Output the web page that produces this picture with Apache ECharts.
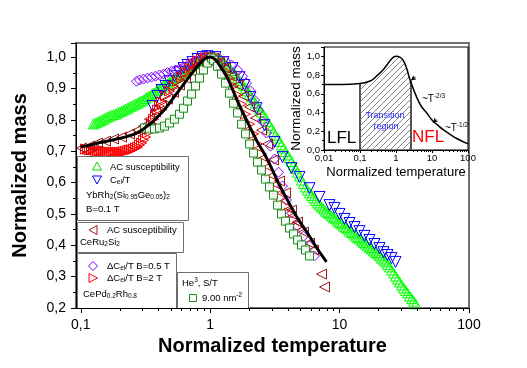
<!DOCTYPE html>
<html><head><meta charset="utf-8">
<script src="https://cdn.jsdelivr.net/npm/echarts@6.0.0/dist/echarts.min.js"></script>
<style>html,body{margin:0;padding:0;background:#fff}#c{width:527px;height:368px}</style>
</head><body><div id="c"></div>
<script>
// ---------- tick values ----------
const xMajorTicks = [0.1, 1, 10, 100];
const xMinorTicks = [0.2,0.3,0.4,0.5,0.6,0.7,0.8,0.9,2,3,4,5,6,7,8,9,20,30,40,50,60,70,80,90];
const insetMajorTicks = [0.01, 0.1, 1, 10, 100];
const insetMinorTicks = [0.02,0.03,0.04,0.05,0.06,0.07,0.08,0.09,0.2,0.3,0.4,0.5,0.6,0.7,0.8,0.9,2,3,4,5,6,7,8,9,20,30,40,50,60,70,80,90];

// ---------- data: [normalized temperature, normalized mass] ----------
// YbRh2(Si0.95Ge0.05)2, AC susceptibility (green up triangles)
const ybAC = [[0.1253,0.787],[0.1299,0.790],[0.1346,0.793],[0.1395,0.796],[0.1445,0.799],[0.1498,0.802],[0.1552,0.806],[0.1608,0.809],[0.1667,0.812],[0.1727,0.815],[0.1789,0.817],[0.1854,0.818],[0.1921,0.822],[0.1991,0.825],[0.2063,0.828],[0.2138,0.831],[0.2215,0.834],[0.2296,0.837],[0.2379,0.841],[0.2465,0.844],[0.2555,0.847],[0.2647,0.850],[0.2743,0.853],[0.2842,0.857],[0.2945,0.860],[0.3051,0.863],[0.3162,0.868],[0.3277,0.873],[0.3396,0.876],[0.3518,0.880],[0.3645,0.885],[0.3777,0.888],[0.3914,0.893],[0.4056,0.898],[0.4203,0.903],[0.4356,0.908],[0.4514,0.911],[0.4677,0.915],[0.4846,0.920],[0.5022,0.925],[0.5204,0.930],[0.5392,0.935],[0.5587,0.939],[0.5789,0.944],[0.5999,0.949],[0.6218,0.954],[0.6443,0.959],[0.6676,0.963],[0.6918,0.968],[0.7168,0.973],[0.7428,0.978],[0.7699,0.982],[0.7977,0.987],[0.8268,0.990],[0.8567,0.994],[0.8875,0.997],[0.9197,0.998],[0.9530,1.000],[0.9876,1.002],[1.023,1.002],
[1.060,1.000],[1.099,0.998],[1.139,0.997],[1.180,0.994],[1.223,0.989],[1.267,0.984],[1.313,0.978],[1.360,0.971],[1.409,0.965],[1.461,0.957],[1.514,0.949],[1.569,0.943],[1.626,0.933],[1.684,0.925],[1.746,0.917],[1.809,0.909],[1.874,0.901],[1.942,0.892],[2.013,0.882],[2.085,0.873],[2.161,0.863],[2.239,0.853],[2.320,0.844],[2.404,0.834],[2.491,0.825],[2.582,0.815],[2.675,0.806],[2.773,0.794],[2.872,0.783],[2.977,0.774],[3.084,0.763],[3.196,0.751],[3.312,0.742],[3.432,0.731],[3.556,0.720],[3.685,0.710],[3.818,0.699],[3.957,0.688],[4.101,0.678],[4.249,0.667],[4.403,0.656],[4.563,0.646],[4.727,0.633],[4.899,0.621],[5.076,0.608],[5.260,0.597],[5.451,0.586],[5.648,0.576],[5.853,0.567],[6.065,0.559],[6.284,0.551],[6.512,0.543],[6.748,0.535],[6.993,0.528],[7.246,0.522],[7.508,0.516],[7.781,0.509],[8.062,0.504],[8.356,0.500],[8.658,0.493],[8.972,0.488],[9.297,0.484],[9.634,0.477],[9.982,0.472],[10.34,0.468],[10.72,0.461],[11.11,0.457],[11.51,0.452],[11.93,0.445],[12.36,0.441],[12.81,0.436],[13.27,0.429],[13.75,0.425],[14.25,0.420],[14.77,0.414],[15.30,0.409],[15.86,0.404],[16.43,0.398],[17.02,0.393],[17.64,0.388],[18.28,0.382],[18.94,0.377],[19.63,0.372],[20.34,0.366],[21.07,0.359],[21.84,0.353],[22.63,0.347],[23.45,0.339],[24.30,0.331],[25.18,0.321],[26.09,0.312],[27.04,0.302],[28.02,0.292],[29.04,0.283],[30.09,0.273],[31.18,0.264],[32.31,0.256],[33.48,0.248],[34.69,0.238],[35.95,0.230],[37.25,0.222],[38.61,0.213]];
// YbRh2(Si0.95Ge0.05)2, Cel/T (blue down triangles)
const ybCel = [[0.3581,0.844],[0.3914,0.876],[0.4203,0.895],[0.4514,0.908],[0.4846,0.923],[0.5297,0.939],[0.5789,0.952],[0.6218,0.965],[0.6676,0.975],[0.7297,0.984],[0.7977,0.994],[0.872,1.000],[0.953,1.003],[1.099,1.000],[1.267,0.984],[1.487,0.965],[1.684,0.936],[1.841,0.911],[2.049,0.873],[2.280,0.837],[2.628,0.783],[3.140,0.729],[3.620,0.681],[4.249,0.646],[4.899,0.618],[5.853,0.582],[6.993,0.554],[8.356,0.528],[9.134,0.519],[9.982,0.500],[10.91,0.484],[11.93,0.471],[13.04,0.458],[14.25,0.445],[15.57,0.430],[17.02,0.417],[18.61,0.404],[20.34,0.391],[21.84,0.378],[23.45,0.369],[25.18,0.359],[27.04,0.347]];
// CeRu2Si2, AC susceptibility (dark red left triangles)
const ceRuAC = [[0.1012,0.710],[0.1167,0.716],[0.1346,0.726],[0.1552,0.732],[0.1789,0.739],[0.2063,0.745],[0.2379,0.755],[0.2743,0.767],[0.3051,0.780],[0.3396,0.802],[0.3777,0.825],[0.4203,0.847],[0.4677,0.866],[0.5204,0.888],[0.5789,0.911],[0.6443,0.933],[0.7168,0.955],[0.7977,0.974],[0.8875,0.990],[0.9876,1.000],[1.060,0.997],[1.180,0.984],[1.313,0.965],[1.461,0.939],[1.626,0.911],[1.809,0.876],[2.013,0.841],[2.239,0.806],[2.491,0.767],[2.773,0.723],[3.084,0.672],[3.432,0.605],[3.818,0.567],[4.249,0.512],[4.727,0.474],[5.260,0.442],[5.853,0.407],[6.284,0.385],[7.246,0.308],[7.644,0.267]];
// CePd0.2Rh0.8, dCel/T B=0.5 T (purple diamonds)
const cePd05 = [[0.2694,0.923],[0.2842,0.927],[0.3051,0.930],[0.3277,0.933],[0.3518,0.936],[0.3777,0.939],[0.4056,0.943],[0.4356,0.946],[0.4677,0.951],[0.5022,0.955],[0.5392,0.959],[0.5789,0.963],[0.6218,0.968],[0.6676,0.975],[0.7168,0.981],[0.7699,0.987],[0.8268,0.992],[0.8875,0.997],[0.9530,1.000],[1.060,1.000],[1.180,0.994],[1.313,0.987],[1.461,0.975],[1.626,0.959],[1.777,0.939],[1.908,0.917],[2.049,0.892],[2.199,0.863],[2.362,0.831],[2.536,0.796],[2.724,0.758],[2.924,0.716],[3.140,0.675],[3.372,0.633],[3.620,0.589],[3.887,0.544],[4.249,0.503],[4.727,0.461],[5.260,0.429],[5.853,0.398],[6.398,0.366]];
// CePd0.2Rh0.8, dCel/T B=2 T (red right triangles)
const cePd2 = [[0.1087,0.707],[0.1127,0.706],[0.1167,0.704],[0.1210,0.704],[0.1253,0.704],[0.1299,0.702],[0.1346,0.700],[0.1395,0.700],[0.1445,0.700],[0.1498,0.700],[0.1552,0.700],[0.1608,0.699],[0.1667,0.697],[0.1727,0.697],[0.1789,0.697],[0.1854,0.697],[0.1921,0.697],[0.1991,0.697],[0.2063,0.697],[0.2138,0.699],[0.2215,0.700],[0.2296,0.702],[0.2379,0.704],[0.2465,0.705],[0.2555,0.707],[0.2647,0.710],[0.2743,0.713],[0.2842,0.720],[0.2945,0.726],[0.3051,0.735],[0.3162,0.745],[0.3277,0.758],[0.3396,0.771],[0.3518,0.787],[0.3645,0.802],[0.3777,0.817],[0.3914,0.831],[0.4056,0.844],[0.4203,0.857],[0.4514,0.876],[0.4846,0.892],[0.5204,0.908],[0.5587,0.923],[0.5999,0.936],[0.6443,0.952],[0.6918,0.965],[0.7428,0.978],[0.7977,0.987],[0.8567,0.994],[0.9197,0.998],[0.9876,1.000],[1.060,1.000],[1.139,0.990],[1.223,0.974],[1.313,0.955],[1.409,0.933],[1.514,0.908],[1.626,0.879],[1.746,0.850],[1.874,0.818],[2.013,0.786],[2.161,0.755],[2.320,0.723],[2.491,0.691],[2.675,0.662],[2.872,0.633],[3.084,0.605],[3.312,0.576],[3.556,0.551],[3.818,0.525],[4.101,0.503],[4.403,0.480],[4.727,0.458]];
// He3, S/T, 9.00 nm^-2 (dark green squares)
const he3 = [[0.3107,0.774],[0.3396,0.771],[0.3712,0.771],[0.4056,0.774],[0.4433,0.780],[0.4846,0.790],[0.5297,0.802],[0.5789,0.818],[0.6218,0.837],[0.6676,0.860],[0.7168,0.882],[0.7699,0.908],[0.8268,0.933],[0.8875,0.959],[0.9530,0.981],[1.023,0.997],[1.060,0.990],[1.139,0.971],[1.223,0.946],[1.313,0.917],[1.409,0.885],[1.514,0.853],[1.626,0.822],[1.746,0.786],[1.874,0.755],[2.013,0.723],[2.161,0.694],[2.320,0.665],[2.491,0.640],[2.675,0.611],[2.872,0.586],[3.084,0.560],[3.312,0.528],[3.556,0.500],[3.818,0.477],[4.101,0.455],[4.403,0.436],[4.727,0.417],[5.076,0.401],[5.451,0.385],[5.853,0.366]];
// theory curve (black)
const theory = [[0.1,0.713],[0.13,0.724],[0.196,0.740],[0.2647,0.756],[0.3336,0.783],[0.4268,0.825],[0.4846,0.853],[0.5392,0.879],[0.5999,0.904],[0.6676,0.930],[0.7428,0.955],[0.8268,0.978],[0.904,0.994],[1.0,1.0],[1.08,0.994],[1.139,0.984],[1.36,0.933],[1.626,0.860],[1.942,0.793],[2.32,0.729],[2.628,0.691],[2.977,0.646],[3.432,0.592],[3.957,0.544],[4.727,0.487],[5.648,0.439],[6.748,0.388],[7.921,0.347]];
// inset curve
const insetT = [0.01,0.03,0.1,0.2,0.29,0.4,0.54,0.74,1,1.3,1.57,1.94,2.5,3.7,5,7,10,13,20,31,50,100];
const insetM = [0.70,0.70,0.71,0.74,0.79,0.84,0.90,0.97,1.0,0.99,0.96,0.88,0.74,0.57,0.47,0.40,0.32,0.28,0.22,0.17,0.12,0.065];
const transitionRange = [0.1, 2.5];

// ---------- chart ----------
const FONT = '"Liberation Sans", Arial, Helvetica, sans-serif';
const insetCurve = insetT.map((t, i) => [t, insetM[i]]);
const hatchData = insetCurve.filter(p => p[0] >= transitionRange[0] && p[0] <= transitionRange[1]);
const mAt = t => insetCurve.find(p => p[0] === t)[1];

const hatch = document.createElement('canvas');
hatch.width = 6; hatch.height = 6;
const hc = hatch.getContext('2d');
hc.strokeStyle = '#777'; hc.lineWidth = 0.9;
hc.beginPath();
hc.moveTo(0, 6); hc.lineTo(6, 0);
hc.moveTo(-1, 1); hc.lineTo(1, -1);
hc.moveTo(5, 7); hc.lineTo(7, 5);
hc.stroke();

function fmtLog(v) { return String(+(+v).toPrecision(6)).replace('.', ','); }
function fmtY01(v) { const r = Math.round(v * 10) / 10; return Math.abs(v - r) < 1e-6 ? r.toFixed(1).replace('.', ',') : ''; }
function fmtY02(v) { const r = Math.round(v * 5) / 5; return Math.abs(v - r) < 1e-6 ? r.toFixed(1).replace('.', ',') : ''; }

const black = '#000';
function logAxis(grid, min, max, ticks, len, labels, extra) {
  return Object.assign({
    type: 'log', gridIndex: grid, min: min, max: max, position: 'bottom', z: 60,
    axisLine: { show: labels, lineStyle: { color: black, width: 1 } },
    axisTick: { show: true, inside: false, length: len, customValues: ticks, lineStyle: { color: black, width: 1 } },
    axisLabel: labels ? { show: true, customValues: ticks, formatter: fmtLog, color: black, fontFamily: FONT } : { show: false },
    splitLine: { show: false }, minorTick: { show: false }
  }, extra || {});
}

const graphics = [];
function box(x, y, w, h) {
  graphics.push({ type: 'rect', z: 50, shape: { x: x + 0.5, y: y + 0.5, width: w, height: h },
    style: { fill: '#fff', stroke: '#6e6e6e', lineWidth: 1 } });
}
const richSub = { fontSize: 6.5, lineHeight: 5, verticalAlign: 'bottom', fontFamily: FONT };
const richSup = { fontSize: 6.5, lineHeight: 5, verticalAlign: 'top', fontFamily: FONT };
function label(x, y, text, opts) {
  graphics.push({ type: 'text', z: 51, style: Object.assign({ text: text, x: x, y: y, fill: '#000', fontSize: 9.5, fontFamily: FONT,
    verticalAlign: 'middle', align: 'left', lineHeight: 12, rich: { sub: richSub, sup: richSup } }, opts || {}) });
}
function poly(points, color) {
  graphics.push({ type: 'polygon', z: 51, shape: { points: points }, style: { fill: 'none', stroke: color, lineWidth: 1 } });
}

box(77, 156, 111, 64);
poly([[97, 162], [101.5, 170], [92.5, 170]], '#00dd00');
label(110, 167, 'AC susceptibility');
poly([[92.5, 176], [101.5, 176], [97, 184]], '#0000ff');
label(110, 180, 'C{sub|el}/T');
label(86, 195, 'YbRh{sub|2}(Si{sub|0.95}Ge{sub|0.05}){sub|2}');
label(86, 209, 'B=0.1 T');

box(77, 222, 106, 30);
poly([[89, 230], [97, 225.5], [97, 234.5]], '#a01818');
label(107, 230, 'AC susceptibility');
label(80, 242, 'CeRu{sub|2}Si{sub|2}');

box(77, 253, 99, 55);
poly([[93, 261.5], [97.5, 266], [93, 270.5], [88.5, 266]], '#8000ff');
label(107, 266, 'ΔC{sub|el}/T B=0.5 T');
poly([[97.5, 278], [89, 273.5], [89, 282.5]], '#ff0000');
label(107, 278, 'ΔC{sub|el}/T B=2 T');
label(83, 294, 'CePd{sub|0.2}Rh{sub|0.8}');

box(177, 272, 71, 36);
label(182, 283, 'He{sup|3}, S/T');
graphics.push({ type: 'rect', z: 51, shape: { x: 189.5, y: 294.5, width: 7, height: 7 }, style: { fill: 'none', stroke: '#1a8a1a', lineWidth: 1 } });
label(202, 298, '9.00 nm{sup|-2}');

// inset annotations
label(327, 138, 'LFL', { fontSize: 17 });
label(412, 137, 'NFL', { fontSize: 17, fill: '#ff0000' });
label(385, 116, 'Transition', { fontSize: 9, fill: '#2a2aff', align: 'center' });
label(386, 127, 'region', { fontSize: 9, fill: '#2a2aff', align: 'center' });
label(422, 99, '~T{sup|-2/3}', { fontSize: 10 });
label(445, 128, '~T{sup|-1/2}', { fontSize: 10 });

function scatter(data, symbol, rotate, size, color, fill, z) {
  return { type: 'scatter', xAxisIndex: 0, yAxisIndex: 0, data: data, symbol: symbol, symbolRotate: rotate, symbolSize: size,
    itemStyle: { color: fill || 'transparent', borderColor: color, borderWidth: 1, opacity: 1 }, silent: true, z: z || 2 };
}

const option = {
  animation: false,
  backgroundColor: '#fff',
  textStyle: { fontFamily: FONT },
  grid: [
    { left: 76, right: 58, top: 43, bottom: 60, show: true, borderColor: '#707070', borderWidth: 2, backgroundColor: 'transparent', outerBoundsMode: 'none', containLabel: false },
    { left: 324, right: 59, top: 47, bottom: 218, show: true, borderColor: '#000', borderWidth: 1, backgroundColor: '#fff', z: 3, outerBoundsMode: 'none', containLabel: false }
  ],
  xAxis: [
    logAxis(0, 0.0918, 100, xMajorTicks, 5, true, {
      axisLabel: { show: true, customValues: xMajorTicks, formatter: fmtLog, color: black, fontFamily: FONT, fontSize: 14, margin: 10 },
      name: 'Normalized temperature', nameLocation: 'middle', nameGap: 25,
      nameTextStyle: { fontSize: 20, fontWeight: 'bold', color: black, fontFamily: FONT } }),
    logAxis(0, 0.0918, 100, xMinorTicks, 3, false),
    logAxis(1, 0.01, 100, insetMajorTicks, 3, true, {
      axisLabel: { show: true, customValues: insetMajorTicks, formatter: fmtLog, color: black, fontFamily: FONT, fontSize: 9.5, margin: 3 },
      name: 'Normalized temperature', nameLocation: 'middle', nameGap: 16,
      nameTextStyle: { fontSize: 13, color: black, fontFamily: FONT } }),
    logAxis(1, 0.01, 100, insetMinorTicks, 2, false)
  ],
  yAxis: [
    { type: 'value', gridIndex: 0, min: 0.2, max: 1.045, interval: 0.1, z: 60,
      axisLine: { show: true, lineStyle: { color: black, width: 1 } },
      axisTick: { show: true, inside: false, length: 5, lineStyle: { color: black } },
      minorTick: { show: true, splitNumber: 2, length: 3, lineStyle: { color: black } },
      axisLabel: { formatter: fmtY01, fontSize: 14, color: black, fontFamily: FONT, margin: 10 },
      splitLine: { show: false }, minorSplitLine: { show: false },
      name: 'Normalized mass', nameLocation: 'middle', nameGap: 46, nameRotate: 90,
      nameTextStyle: { fontSize: 20, fontWeight: 'bold', color: black, fontFamily: FONT } },
    { type: 'value', gridIndex: 1, min: 0, max: 1.1, interval: 0.2, z: 60,
      axisLine: { show: true, lineStyle: { color: black, width: 1 } },
      axisTick: { show: true, inside: false, length: 3, lineStyle: { color: black } },
      minorTick: { show: true, splitNumber: 2, length: 2, lineStyle: { color: black } },
      axisLabel: { formatter: fmtY02, fontSize: 9.5, color: black, fontFamily: FONT, margin: 4 },
      splitLine: { show: false }, minorSplitLine: { show: false },
      name: 'Normalized mass', nameLocation: 'middle', nameGap: 19, nameRotate: 90,
      nameTextStyle: { fontSize: 13.5, color: black, fontFamily: FONT } }
  ],
  series: [
    scatter(ybAC, 'triangle', 0, 10, '#00ff00'),
    scatter(ybCel, 'triangle', 180, 11, '#0000ff'),
    scatter(cePd05, 'diamond', 0, 10, '#8000ff'),
    scatter(cePd2, 'triangle', -90, 10, '#ff0000'),
    scatter(ceRuAC, 'triangle', 90, 10, '#a01818'),
    scatter(he3, 'rect', 0, 8, '#1a8a1a', 'rgba(244,250,244,0.9)'),
    { type: 'line', xAxisIndex: 0, yAxisIndex: 0, data: theory, smooth: 0.3, symbol: 'none', silent: true, z: 5,
      lineStyle: { color: '#000', width: 3 } },
    { type: 'line', xAxisIndex: 2, yAxisIndex: 1, data: hatchData, smooth: true, symbol: 'none', silent: true, z: 6,
      lineStyle: { width: 0 }, areaStyle: { color: { image: hatch, repeat: 'repeat' }, opacity: 1 },
      markLine: { silent: true, symbol: ['none', 'none'], label: { show: false }, animation: false,
        lineStyle: { color: '#555', width: 2, type: 'solid' },
        data: transitionRange.map(t => [{ coord: [t, 0] }, { coord: [t, mAt(t)] }]) } },
    { type: 'line', xAxisIndex: 2, yAxisIndex: 1, data: insetCurve, smooth: true, symbol: 'none', silent: true, z: 7,
      lineStyle: { color: '#000', width: 1.5 },
      markLine: { silent: true, symbol: ['none', 'arrow'], symbolSize: [4, 5], label: { show: false }, animation: false,
        lineStyle: { color: '#000', width: 1, type: 'solid' },
        data: [[{ coord: [3.5, 0.78] }, { coord: [2.6, 0.745] }], [{ coord: [13.2, 0.325] }, { coord: [10.7, 0.29] }]] } }
  ],
  graphic: graphics
};

const chart = echarts.init(document.getElementById('c'), null, { renderer: 'canvas' });
chart.setOption(option);
</script>
</body></html>
